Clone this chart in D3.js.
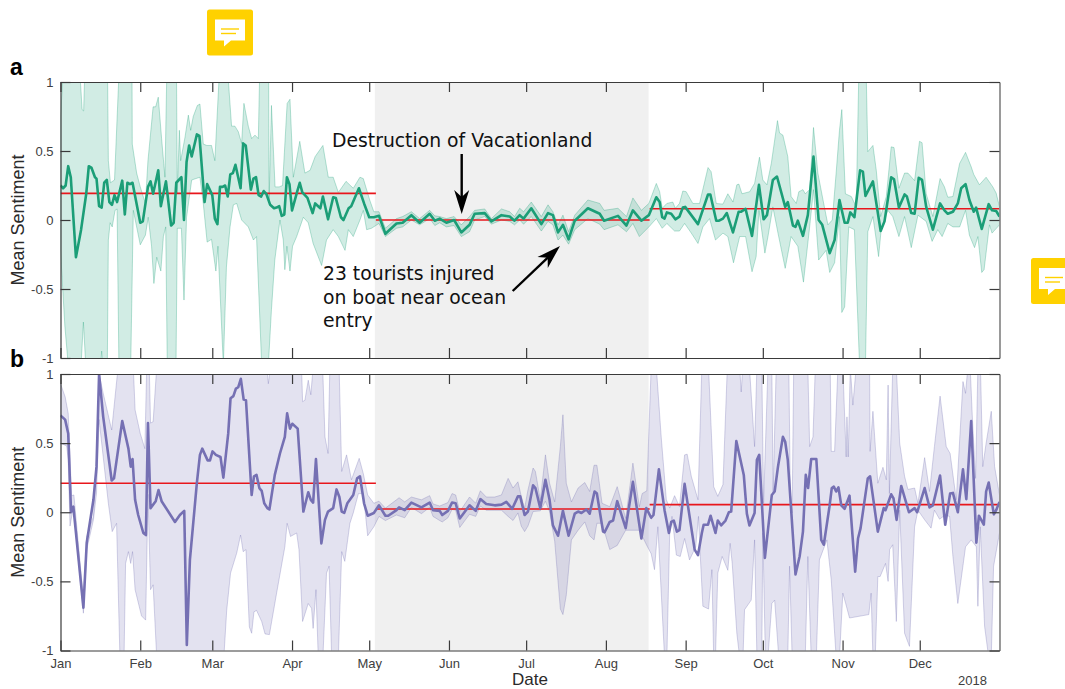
<!DOCTYPE html>
<html>
<head>
<meta charset="utf-8">
<script src="https://cdn.jsdelivr.net/npm/d3@7/dist/d3.min.js"></script>
<style>
    html, body { margin: 0; padding: 0; background: #fff; }
    svg { display: block; }
    .tick text { font-family: "Liberation Sans", Arial, sans-serif; font-size: 13px; fill: #404040; }
    .axis path, .axis line { stroke: #3a3a3a; stroke-width: 1.2px; }
    .ylab, .xlab { font-family: "Liberation Sans", Arial, sans-serif; fill: #2a2a2a; }
    .note { font-family: "DejaVu Sans", sans-serif; font-size: 18.8px; fill: #111; }
    .letter { font-family: "Liberation Sans", Arial, sans-serif; font-weight: bold; font-size: 23px; fill: #000; }
</style>
</head>
<body>
<div id="chart"></div>
<script>
// all x values are days since 1 Jan 2017
var monthLabels = ["Jan", "Feb", "Mar", "Apr", "May", "Jun", "Jul", "Aug", "Sep", "Oct", "Nov", "Dec"];
var yTicks = [-1, -0.5, 0, 0.5, 1];
var periodDays = [122.2, 228.6];

// panel a, daily mean
var aMeanDays = [0,1,2,3,4,6,8,10,11,12,13.4,14,15,16,17,18,19,20,21,22,24,25,26,27,28,31,32,34,35,36,38,39,41,43,44,45,47,48,49,50,51,53,54,56,57,59,60,61,62,63,64,65,66,67,68,70,71,72,74,75,76,77,78,79,80,81.5,83,84,85,86,87,88,89,90,92,93,94,96,98,99,101,102,104,106,107,109,110,112,113,116,118,120,121.8,123.8,126.3,130.6,133,136.4,139.6,143.5,145.5,147.4,150,153,155.8,159,161,164.9,167.5,171.4,174.6,176.5,178.5,180,183,186.9,189.5,191.4,193.4,195.3,197.5,199.9,205,209.6,211.3,216.7,220,222.5,225.8,228.7,231.6,232.9,233.9,234.8,235.7,237.4,239,240.6,241.9,242.8,247.8,251.7,252.6,254.9,256,257.5,259,261.4,263.6,264.6,266.3,268.8,271.5,273.3,274.6,276.9,278.5,281.7,282.7,284.7,285.7,286.6,288.6,290.5,292.7,294.7,296.1,299,300.9,302.8,304.8,306,307,308.6,310.8,311.9,312.9,315.8,318.8,320.3,322.9,324,325.9,328.1,329,330.7,332,333.6,334.9,336.5,339.1,341.9,343.6,344.9,346.9,348.8,350.1,351.8,353.3,355,355.9,358.1,360.8,362.1,363.7,365];
var aMean = [.25,.23,.25,.39,.31,-.27,-.07,.19,.39,.38,.31,.30,.10,.09,.27,.29,.13,.11,.18,.13,.285,.04,.27,.26,.27,-.02,-.01,.24,.28,.19,.36,.10,.28,-.04,-.02,.27,.31,0,.42,.54,.46,.62,.61,.13,.26,.18,.01,-.03,.24,.24,.25,.17,.33,.34,.40,.23,.555,.54,.22,.30,.31,.18,.17,.21,.19,.11,.085,.09,.10,.03,.04,.31,.26,.07,.205,.27,.20,.16,.05,.12,.085,.17,.005,.165,.16,.02,0,.085,.10,.23,.12,.02,.02,.03,-.10,-.025,-.02,.035,-.02,.045,-.005,.01,-.02,0,-.09,-.035,.045,.05,-.01,.035,.025,-.005,.035,.01,.085,-.03,.05,.035,-.09,-.035,-.14,-.005,.085,.045,-.005,.03,-.04,.07,-.005,.035,.165,.13,.02,.01,.055,.045,.005,.025,.09,.095,-.03,.185,.185,-.005,-.005,.01,.05,-.09,.06,.06,.08,-.115,.255,.005,.035,.29,.315,.095,.13,-.04,-.05,-.005,-.115,.035,.46,0,-.035,-.24,-.145,.145,-.02,-.02,.055,.02,.36,.35,.175,.28,-.08,-.01,.31,.295,.09,.185,.17,.05,.045,.305,.29,.095,-.07,.12,.07,.045,.06,.12,.23,.26,.145,.06,.09,-.065,.115,.07,.065,.025];

// panel a, interval around the mean; 1.05 and -1.05 run off the axes
var aUpperDays = [0,1,7.6,8.4,9,9.4,18.3,18.6,19.4,21,22.7,27.8,27.9,29.6,31,33,34,36,37,38,39.3,40.6,41.3,45.1,45.4,46.2,46.7,48.4,49.7,50.6,51.6,53.2,54.2,55.5,56.9,58.7,60,61.7,65.1,66.5,67.8,69.1,70.4,71.3,73,74.3,75.6,76.9,77.4,80.9,81.1,82,83.4,85,86.3,88.1,89.2,90.5,93,95,97,99,102,104.1,106,108,111,113.8,116.4,117.7,120.2,121.8,123.8,126.3,130.6,133,136.4,139.6,143.5,145.5,147.4,150,153,155.8,159,161,164.9,167.5,171.4,174.6,176.5,178.5,180,183,186.9,189.5,191.4,193.4,195.3,197.5,199.9,205,209.6,211.3,216.7,220,222.5,225.8,228.7,231.6,232.9,233.9,235.7,238,239,240.6,241.9,243.2,245.8,248.4,251.7,252.9,254.9,257.5,259.4,261.4,262.9,263.7,264.9,267.9,269.8,271.7,273,274.6,276.3,278.7,279.5,280.8,282.7,284,286,287,288.6,289.5,291.2,292.7,294.4,296.4,298.3,300,301.5,302.8,303.7,305.1,307.4,309.3,310.3,313.2,313.8,315.8,317.1,318.8,321,322.9,324,325.9,328.1,329.4,332,333.9,334.9,336.5,339.1,341.9,343.6,344.9,346.9,349.5,351.8,354,355,357.2,359.8,362.4,363.7,365];
var aUpper = [.75,1.05,1.05,.8,.79,1.05,1.05,.43,.27,.29,1.05,1.05,.55,.34,.24,.12,.43,.82,.82,.89,.59,.31,1.05,1.05,.19,.65,.43,.6,.76,.65,.75,.83,.84,.55,.54,.54,.43,1.05,1.05,.68,.68,.64,.555,.845,.68,.59,.615,.59,1.05,1.05,.145,.83,.24,.24,.25,.845,.875,.31,.57,.34,.36,.46,.54,.31,.31,.2,.28,.23,.31,.30,.145,.06,.06,-.06,.01,.025,.06,.01,.07,.03,.025,.01,.025,-.035,.025,.07,.08,.01,.08,.06,.025,.085,.06,.13,.025,.11,.06,-.035,.035,-.085,.035,.145,.12,.07,.085,.025,.16,.07,.12,.265,.205,.085,.12,.13,.085,.12,.21,.205,.12,.12,.38,.35,.12,.115,.19,.13,.255,.26,.19,.205,.265,.455,.29,.255,.41,.72,.63,.615,.46,.17,.12,.205,.22,.19,.22,.67,.34,.145,-.035,0,.34,.65,.8,.19,.17,.095,1.05,1.05,.495,.54,.36,.025,.17,.53,.525,.23,.34,.34,.285,.57,.56,.19,.025,.30,.24,.165,.17,.41,.49,.385,.33,.255,.31,.24,.195,.095];
var aLowerDays = [0,1.7,3,8,8.9,9.8,15.6,16,16.4,18.2,18.6,19.3,20.1,21.2,22,22.7,27.3,28.3,31,33,34.1,35.4,36.3,37.4,39,40,40.9,41.5,44.9,45.4,47,48,49,51,54.2,55.5,57,58.7,60.4,61.2,63.3,64.5,65.9,67.2,68.5,70.4,73,75,76.2,78.2,80.8,82,83.3,85.3,86.6,87.2,88,89.2,90.2,91.8,94.4,96.3,98.2,101.5,103.4,106,108,110.6,111.9,113.8,116.4,117.7,119,120.9,123.8,126.3,130.6,133,136.4,139.6,143.5,145.5,147.4,150,153,155.8,159,161,164.9,167.5,171.4,174.6,176.5,178.5,180,183,186.9,189.5,191.4,193.4,195.3,197.5,199.9,205,209.6,211.3,216.7,220,222.5,225,228.7,231.6,233.9,235.7,238.7,240.6,242.6,245.2,247.8,249.7,252.3,254.6,257.5,259.4,261.6,264,266.3,268.8,270.4,271.5,273.8,275,276.9,278.9,281.7,284,286.6,288.8,291.2,292.7,294.7,297.6,299,300.9,302.8,303.7,304.8,306.4,308.6,310.6,312.9,313.8,315.8,318,319,321.6,323.5,325.9,328.1,330.7,333.3,336.5,338.8,341,342.7,344.9,346.9,349.5,351.8,353.3,355.3,356.6,358.1,359,361.1,362.1,365];
var aLower = [-.22,-.77,-1.05,-1.05,-.74,-1.05,-1.05,-.95,-1.05,-1.05,-.145,-.02,-.05,.07,.08,-1.05,-1.05,.07,-.18,-.11,.02,-.19,-.46,-.27,-.37,-.12,-.05,-1.05,-1.05,-.06,-.06,-.58,.02,.29,.31,.12,-.16,-.14,-.37,-.19,-1.05,-.34,-.05,.11,.12,0,-.05,-.145,-.12,-1.05,-1.05,-.65,-.29,0,-.145,-.36,-.19,-.37,-.19,-.12,.02,-.02,-.17,-.33,-.145,-.07,-.12,-.22,-.07,-.12,0,.07,-.07,-.06,-.025,-.12,-.06,-.05,0,-.035,.01,-.04,-.02,-.05,-.04,-.12,-.085,0,.025,-.03,0,-.01,-.035,0,-.03,.025,-.08,-.01,-.035,-.145,-.11,-.175,-.07,.01,-.03,-.07,-.035,-.085,-.025,-.12,-.05,.01,-.06,-.025,-.08,-.08,-.025,-.095,-.17,-.05,.01,-.145,-.095,-.12,-.31,-.12,-.12,-.375,-.265,.07,-.24,-.12,.095,-.095,-.35,-.12,-.19,-.45,-.05,.22,-.29,-.22,-.38,-.31,.025,-.67,-.63,-.05,-.07,-1.05,-1.05,-.085,.025,-.265,-.07,.07,.025,-.12,.025,-.2,.035,-.01,-.155,-.07,-.12,-.025,-.05,-.05,.07,-.11,-.2,-.12,-.38,-.36,-.035,-.095,-.035];
var aSegmentMeans = [0.193, 0, 0.082];

// panel b, daily mean
var bMeanDays = [0,1.8,3,4.1,5,8.9,10.2,12.8,14,15,16.6,19.9,20.8,24,26.4,27.3,28,29,30.2,32.2,33.2,34,35,37,38.1,39.3,44.5,46.4,48.1,49.1,50.3,53,54.2,55.1,57.2,58.1,59.1,60.4,62.2,63.3,65.2,66.1,67.2,68.2,69.1,70.1,71.2,72.1,74.3,75.2,76.2,77.3,78.2,79.2,80.4,81.2,83.3,85.3,87.2,88.1,89.2,90.1,92.2,94.4,96.3,97.3,98.2,99.3,101.4,102.8,104,106,107.3,108.4,109.3,110.3,111.5,113.8,115.3,116.4,118,119.4,121.8,123.8,126.3,127.4,130.6,131.6,133.8,136.4,140.3,143.5,144.8,147.4,148.4,150.6,152.2,153.6,155.2,159,161.4,163.2,165.5,168.8,171.4,173.3,175.6,177.8,178.7,180.4,181.7,183.7,184.6,186.5,188.5,190.1,191.4,193.4,195.3,197.5,199.9,201.2,202.5,204.4,205.7,207.6,208.5,210.9,211.5,213.5,214.8,216.4,219.7,222.5,225.8,227.7,229.6,230.5,232.6,234.8,236.5,237.4,238.4,239.6,240.6,242.6,246.5,247.8,249.3,250,251.7,252.7,254.6,255.5,256.8,258.5,259.8,260.7,262.7,265.6,266.8,267.8,269.8,270.7,271.6,273.8,276.5,277.6,278.9,280.8,281.7,282.7,285.7,287.3,288.6,289.7,290.6,291.8,293.8,295.7,296.7,298.9,299.8,300.6,301.5,302.4,303.5,304.8,306.7,308.9,310,311,313.8,314.7,317.7,320,320.7,322.9,323.8,325,326.8,329.8,332,333,335.9,337.8,339.1,341.9,343.9,345.8,346.9,348.8,350.8,352.1,354,356,357,358.9,359.8,360.8,362.8,363.7,365];
var bMean = [.70,.67,.57,0,.04,-.69,-.22,.09,.33,1.0,.69,.23,.245,.66,.46,.33,.385,.09,-.02,-.15,-.165,.645,.03,.08,.16,.08,-.07,-.02,.01,-.96,-.345,.21,.415,.46,.375,.375,.44,.415,.40,.25,.57,.825,.84,.895,.905,.965,.815,.81,.125,.26,.27,.175,.155,.065,.03,.02,.27,.425,.545,.715,.605,.64,.605,.005,.145,.09,.07,.385,-.225,-.055,.005,.03,.165,.11,.005,-.005,.065,.125,.245,.26,.065,-.025,-.005,.05,-.025,-.025,.015,.035,.015,.07,.035,.07,.015,.01,-.02,.01,.07,.065,-.045,.05,.01,.095,.06,.05,.055,.075,.025,.115,.115,-.02,.005,.195,.175,.03,.235,.09,-.095,-.17,.01,-.17,-.01,.005,-.005,.02,-.01,.15,.135,-.14,-.145,-.07,-.06,.08,-.115,.22,-.19,.03,-.04,-.02,.31,.015,-.15,-.07,-.06,-.14,-.13,.205,-.27,-.31,-.15,-.09,-.09,-.025,-.15,-.06,-.095,-.06,0,.005,.515,.27,-.01,-.095,-.005,.38,.415,-.33,.125,.15,.33,.545,.51,.38,-.45,-.32,-.14,.27,.175,.385,.385,-.2,-.235,.04,.175,.185,.15,.18,.05,.025,.12,-.43,-.19,-.115,.245,.26,-.14,.03,.015,.13,.10,-.055,.19,0,.03,0,.175,.035,.05,.265,-.09,.135,.14,0,.31,.095,.66,-.22,-.025,-.09,.15,.215,-.015,.015,.075];

// panel b, interval around the mean
var bUpperDays = [0,1.8,3,4.3,5.2,8.9,10.2,12.8,14,15,16.6,19.9,22,22.5,28.3,29,31,32.8,33.5,34.5,35,36,37.4,80.2,80.8,81.6,93.7,94.1,95,96.3,97.3,98.2,101.9,102.8,104,104.7,108.3,109.3,111.2,113.1,116.1,117.7,119.4,121.8,123.8,126.3,130.6,131.6,133.8,136.4,140.3,143.5,144.8,147.4,150.6,152.2,153.6,155.2,159,161.4,163.2,165.5,168.8,171.4,174,175.9,177.8,179.1,180.4,181.7,183.7,184.6,186.5,188.5,190.1,192.1,194.3,195.3,196.6,198.6,201.2,203.8,205.7,207.4,208.5,210.5,213.5,216.4,219.7,222.5,225,226.1,227.9,229.6,231.6,233.5,235.5,236.8,238.7,240.6,242.6,243.6,245.2,247.8,249.3,251.9,253.9,255.5,257.5,259.2,264,264.6,265.2,267.8,269.8,270.7,272.6,273.3,275,276.5,277,278.2,283.1,283.7,284.4,285,290.5,291.2,292.5,293.4,299.2,299.6,300.9,302.2,304.1,305.4,305.7,306.2,307,308,309.3,314.5,314.7,315.8,317.7,319.7,321,321.7,322.2,323.5,324.9,326.2,328.1,329.4,332,333.3,335.9,337.8,339.7,341.9,344.3,345.8,348.2,350.8,351.8,352.7,353.6,354.4,355.7,356.6,357.6,358.5,359.8,361.8,363.1,365];
var bUpper = [.93,.835,.715,.12,.125,-.63,-.175,-.03,.38,1,.86,.595,.98,1.05,1.05,.74,.57,.46,1.05,1.05,.645,.655,1.05,1.05,.93,1.05,1.05,.8,.81,.955,.85,1.05,1.05,.545,.425,1.05,1.05,.295,.415,.235,.39,.28,.125,.065,.08,.03,.09,.105,.075,.11,.09,.12,.06,.045,.07,.135,.125,.005,.11,.065,.155,.11,.11,.125,.245,.175,.22,.115,.03,.16,.32,.295,.09,.415,.21,.075,.475,.705,.21,.075,.175,.215,.15,.34,.34,.065,.04,.185,-.045,.355,.04,.135,.155,1.05,1.05,.545,.09,.03,.12,.04,.415,.42,.26,.09,1.05,1.05,.185,.115,.2,1.05,1.05,.87,1.05,1.05,.475,1.05,1.05,.065,1.05,1.05,.135,1.05,1.05,.135,-.005,1.05,1.05,.475,.545,1.05,1.05,.44,.44,1.05,1.05,.4,.69,.4,1.05,.775,1.05,1.05,.44,.73,.21,.325,.235,.92,.135,1.05,1.05,.5,.26,.165,.175,.065,.395,.15,.475,.84,.475,.425,.09,.945,.86,1.05,1.05,.705,.245,1.05,1.05,.33,.5,.73,.33,.125];
var bLowerDays = [0,2.4,3,3.7,5,8.9,10.2,12.8,14,15,16.6,18.6,20.1,21.8,23.1,24.7,25.3,26.4,27.3,28,29,31.5,33.1,34,35,36,37.4,63.5,64.6,66.1,68.5,70,71,72.1,73.4,74.3,75.2,76.2,78.2,79.5,81.2,84,87.2,88.1,89.4,91.8,92.7,94.1,96.3,97.6,98.2,99.3,100.2,102,103.4,104.4,105.4,108,109.3,110.5,112.5,113.8,115.8,117.7,119.4,121.8,123.8,126.3,130.6,133.8,136.4,140.3,143.5,144.8,147.4,148.4,150.6,152.2,153.6,155.2,159,161.4,163.2,165.5,168.8,171.4,174,175.9,177.8,179.1,180.4,181.7,183.7,186.5,188.5,190.1,192.1,194.3,195.3,196.6,198.6,201.2,203.8,205.7,207.4,208.5,210.5,213.5,216.4,219.7,222.5,225,227.9,229.6,230.9,232.2,234.8,235.7,236.8,237.7,239.4,240.9,242.6,244.5,246.9,248,248.7,249.7,251.9,253.2,253.9,254.6,255.5,257.2,259.4,260.3,261.1,262.9,264,265.3,265.9,268.5,269.8,270.7,272.6,273,274,275,276.5,277.6,279.2,282.7,283.4,284.4,289.5,290.5,291.8,293.8,295,297.9,299.6,301.5,302.8,304.1,305.2,306.7,314.2,315.1,315.8,316.7,317.7,318.6,320.7,321.7,322.3,323.5,324.9,326.2,328.1,330,332,333.3,335.9,338.4,339.7,341.7,343.9,345.6,346.9,348.8,351.8,354,356,356.6,357.5,359.2,360.8,361.8,362.7,365];
var bLower = [.5,.48,.38,-.10,.04,-.73,-.27,-.055,.14,.67,.40,.065,-.14,-.08,-1.05,-1.05,-.37,-.285,-.37,-.285,-.56,-.75,-.78,.13,-.56,-.525,-1.05,-1.05,-.71,-.44,-.295,-.165,-.285,-.27,-.83,-.875,-.72,-.71,-.79,-.88,-.885,-.585,-.25,-.08,-.175,-.15,-.27,-.79,-.66,-.695,-.84,-.56,-1.05,-1.05,-.44,-.39,-1.05,-1.05,-.285,-.355,-.08,-.005,.135,.135,-.17,-.105,-.03,-.06,-.02,-.04,.035,-.01,.035,-.03,-.06,-.07,-.04,.02,.015,-.11,-.015,-.03,.045,.015,.015,.015,-.03,-.06,-.005,-.10,-.14,-.10,.005,.01,.08,.005,-.21,-.70,-.74,-.6,-.2,-.13,-.07,-.17,-.2,-.08,-.08,-.27,-.24,-.13,-.13,-.13,-.24,-.3,-.415,-.105,-1.05,-1.05,-.15,-.03,-.31,-.32,-.19,-.345,-.25,-.03,-.32,-.68,-.70,-.415,-1.05,-1.05,-.44,-.32,-.42,-.225,-.37,-.875,-1.05,-1.05,-.705,-.635,-.2,-1.05,-1.05,-.15,-1.05,-1.05,-.66,-.635,-1.05,-1.05,-.39,-1.05,-1.05,-.32,-1.05,-1.05,-.345,-.2,-.49,-1.05,-1.05,-.585,-.66,-.765,-.74,-.585,-1.05,-1.05,-.465,-.465,-.37,-.5,-.27,-.235,-.79,.015,-.875,-.97,-.105,.015,-.055,-.115,.015,-.05,-.02,-.03,-.32,-.66,-.25,-.2,-.25,-.68,-.105,-.825,-1.05,-1.05,-.39,-.15,-.56,-.105,-.055];
var bSegmentMeans = [0.21, 0.024, 0.055];

var segmentDays = [[0, 122.6], [122.6, 229], [229, 365]];

var width = 1065, height = 689;
var margin = { left: 60.5, right: 65.5 };
var panelA = { top: 82, bottom: 358 };
var panelB = { top: 374, bottom: 650.5 };

var svg = d3.select("#chart").append("svg")
    .attr("width", width)
    .attr("height", height);

var defs = svg.append("defs");

var yearStart = new Date(2017, 0, 1);

// fractional days need milliseconds, the Date constructor would truncate them
function dayDate(d) {
    return new Date(yearStart.getTime() + d * 864e5);
}

var x = d3.scaleTime()
    .domain([yearStart, new Date(2018, 0, 1)])
    .range([margin.left, width - margin.right]);

var monthTicks = d3.timeMonth.range(yearStart, new Date(2018, 0, 1));

function drawPanel(opts) {
    var p = opts.panel;
    var y = d3.scaleLinear().domain([-1, 1]).range([p.bottom, p.top]);
    var left = x.range()[0], right = x.range()[1];
    var clipId = "clip" + opts.id;

    defs.append("clipPath").attr("id", clipId).append("rect")
        .attr("x", left).attr("y", p.top)
        .attr("width", right - left).attr("height", p.bottom - p.top);

    var g = svg.append("g");

    // study period shading
    g.append("rect")
        .attr("x", x(dayDate(periodDays[0])))
        .attr("y", p.top)
        .attr("width", x(dayDate(periodDays[1])) - x(dayDate(periodDays[0])))
        .attr("height", p.bottom - p.top)
        .style("fill", "#f0f0f0");

    var plot = g.append("g").attr("clip-path", "url(#" + clipId + ")");

    var line = d3.line()
        .x(function (d) { return x(dayDate(d[0])); })
        .y(function (d) { return y(d[1]); });

    var upper = d3.zip(opts.upperDays, opts.upper);
    var lower = d3.zip(opts.lowerDays, opts.lower);

    plot.append("path")
        .attr("d", line(upper.concat(lower.slice().reverse())) + "Z")
        .style("fill", opts.color)
        .style("fill-opacity", 0.2)
        .style("stroke", opts.color)
        .style("stroke-opacity", 0.3)
        .style("stroke-width", 1);

    // red segment means sit below the series line
    opts.segmentMeans.forEach(function (v, i) {
        plot.append("line")
            .attr("x1", x(dayDate(segmentDays[i][0])))
            .attr("x2", x(dayDate(segmentDays[i][1])))
            .attr("y1", y(v))
            .attr("y2", y(v))
            .style("stroke", "#e8161c")
            .style("stroke-width", 1.6);
    });

    plot.append("path")
        .attr("d", line(d3.zip(opts.meanDays, opts.mean)))
        .style("fill", "none")
        .style("stroke", opts.color)
        .style("stroke-width", 2.6)
        .style("stroke-linejoin", "round");

    // axes, ticks point inward on all four sides
    var innerTick = 10;
    var yAxis = d3.axisLeft(y).tickValues(yTicks).tickSizeInner(-innerTick).tickSizeOuter(0).tickPadding(7)
        .tickFormat(function (d) { return d; });
    var yRight = d3.axisRight(y).tickValues(yTicks).tickSizeInner(-innerTick).tickSizeOuter(0).tickFormat("");
    var xBottom = d3.axisBottom(x).tickValues(monthTicks).tickSizeInner(-innerTick).tickSizeOuter(0).tickPadding(8)
        .tickFormat(function (d, i) { return opts.showMonths ? monthLabels[i] : ""; });
    var xTop = d3.axisTop(x).tickValues(monthTicks).tickSizeInner(-innerTick).tickSizeOuter(0).tickFormat("");

    g.append("g").attr("class", "axis").attr("transform", "translate(" + left + ",0)").call(yAxis);
    g.append("g").attr("class", "axis").attr("transform", "translate(" + right + ",0)").call(yRight)
        .select(".domain").style("stroke", "#808080").style("stroke-width", "1.6px");
    g.append("g").attr("class", "axis").attr("transform", "translate(0," + p.bottom + ")").call(xBottom);
    g.append("g").attr("class", "axis").attr("transform", "translate(0," + p.top + ")").call(xTop);

    g.append("text")
        .attr("class", "ylab")
        .attr("transform", "translate(24," + ((p.top + p.bottom) / 2) + ") rotate(-90)")
        .attr("text-anchor", "middle")
        .style("font-size", "18px")
        .text("Mean Sentiment");

    svg.append("text")
        .attr("class", "letter")
        .attr("x", 10)
        .attr("y", p.top - 7)
        .text(opts.id);
}

drawPanel({
    id: "a", panel: panelA, color: "#1b9e77", showMonths: false,
    meanDays: aMeanDays, mean: aMean,
    upperDays: aUpperDays, upper: aUpper,
    lowerDays: aLowerDays, lower: aLower,
    segmentMeans: aSegmentMeans
});

drawPanel({
    id: "b", panel: panelB, color: "#7570b3", showMonths: true,
    meanDays: bMeanDays, mean: bMean,
    upperDays: bUpperDays, upper: bUpper,
    lowerDays: bLowerDays, lower: bLower,
    segmentMeans: bSegmentMeans
});

// labels below the lower panel
svg.append("text").attr("class", "xlab")
    .attr("x", 530).attr("y", 685)
    .attr("text-anchor", "middle")
    .style("font-size", "17px")
    .text("Date");

svg.append("text").attr("class", "xlab")
    .attr("x", 958).attr("y", 685)
    .style("font-size", "13px")
    .style("fill", "#404040")
    .text("2018");

// annotations
svg.append("text").attr("class", "note").attr("x", 332).attr("y", 147).text("Destruction of Vacationland");
["23 tourists injured", "on boat near ocean", "entry"].forEach(function (t, i) {
    svg.append("text").attr("class", "note").attr("x", 323).attr("y", 280 + i * 23.5).text(t);
});

function arrow(x1, y1, x2, y2) {
    var a = Math.atan2(y2 - y1, x2 - x1), len = Math.sqrt((x2 - x1) * (x2 - x1) + (y2 - y1) * (y2 - y1));
    var g = svg.append("g").attr("transform", "translate(" + x1 + "," + y1 + ") rotate(" + (a * 180 / Math.PI) + ")");
    g.append("line").attr("x1", 0).attr("y1", 0).attr("x2", len - 14).attr("y2", 0)
        .style("stroke", "#000").style("stroke-width", 2.4);
    g.append("path")
        .attr("d", "M" + len + ",0 L" + (len - 24) + ",-7.5 L" + (len - 17) + ",0 L" + (len - 24) + ",7.5 Z")
        .style("fill", "#000");
}

arrow(461.7, 154, 461.7, 214);
arrow(512.7, 291, 560, 246);

// yellow comment badges from the pdf viewer
function badge(bx, by) {
    var g = svg.append("g").attr("transform", "translate(" + bx + "," + by + ")");
    g.append("rect").attr("width", 46).attr("height", 46).attr("rx", 2.5).style("fill", "#ffd100");
    g.append("path").attr("d", "M8,10 H38 V31 H24 L17,37 V31 H8 Z").style("fill", "#fff");
    g.append("line").attr("x1", 14).attr("x2", 32).attr("y1", 19.5).attr("y2", 19.5).style("stroke", "#ffd100").style("stroke-width", 1.4);
    g.append("line").attr("x1", 14).attr("x2", 29).attr("y1", 24).attr("y2", 24).style("stroke", "#ffd100").style("stroke-width", 1.4);
}

badge(207, 9.5);
badge(1031, 258);
</script>
</body>
</html>
